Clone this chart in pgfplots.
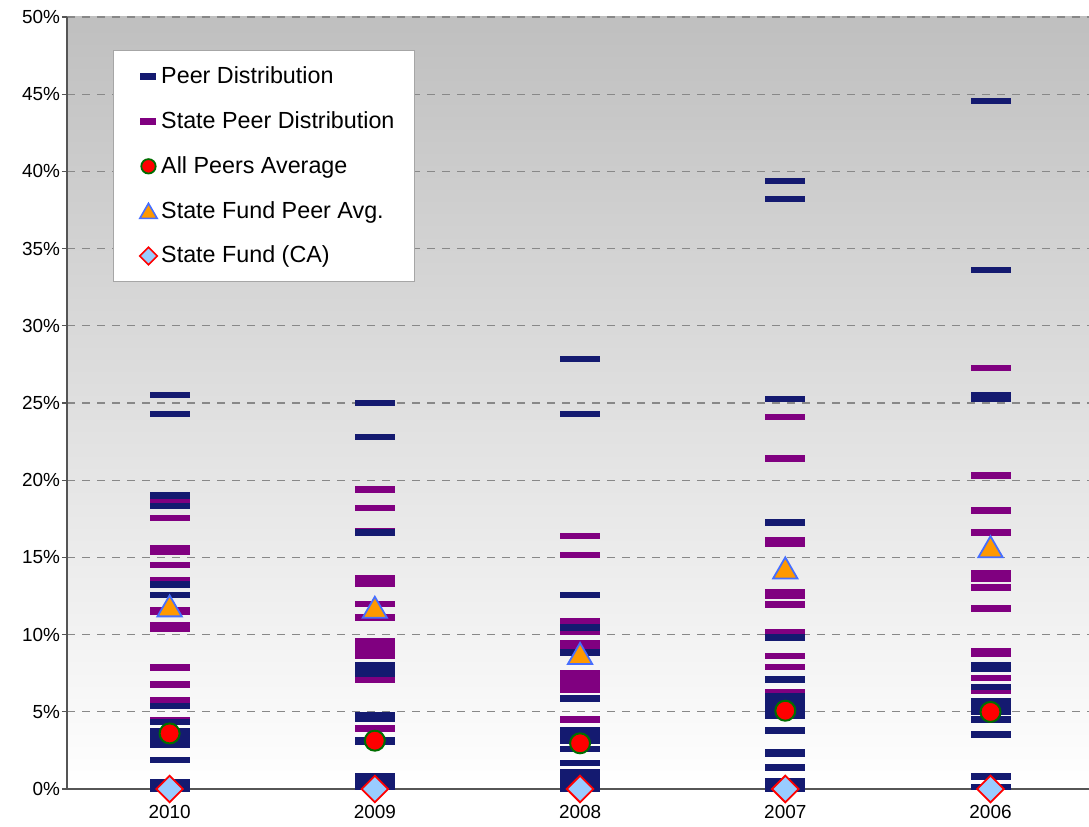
\documentclass[border=0pt]{standalone}
\usepackage{fontspec}
\setmainfont{Liberation Sans}
\usepackage{pgfplots}
\usepackage{pgfplotstable}
\pgfplotsset{compat=1.18}

\definecolor{peernavy}{RGB}{20,26,112}
\definecolor{statepurple}{RGB}{128,0,128}
\definecolor{avgred}{RGB}{255,0,0}
\definecolor{avggreen}{RGB}{0,110,0}
\definecolor{triorange}{RGB}{255,153,0}
\definecolor{triblue}{RGB}{70,110,255}
\definecolor{diafill}{RGB}{153,204,255}
\definecolor{gridgray}{RGB}{136,136,136}
\definecolor{axisgray}{RGB}{85,85,85}

% short horizontal bar used for the distribution marks
\pgfdeclareplotmark{hbar}{%
  \pgfpathrectangle{\pgfqpoint{-10bp}{-1.6bp}}{\pgfqpoint{20bp}{3.2bp}}%
  \pgfusepathqfill}

% x: 0 = 2010, 1 = 2009, 2 = 2008, 3 = 2007, 4 = 2006 ; y in percent
\pgfplotstableread{
x y
0 25.5
0 24.3
0 19.0
0 18.33
0 13.25
0 12.56
0 5.37
0 4.34
0 3.76
0 3.5
0 3.2
0 2.86
0 1.88
0 0.43
0 0.2
0 0.02
1 25.0
1 22.8
1 16.6
1 8.0
1 7.7
1 7.45
1 4.8
1 4.55
1 3.19
1 3.04
1 0.82
1 0.5
1 0.13
2 27.85
2 24.3
2 12.56
2 10.45
2 8.83
2 5.87
2 3.83
2 3.45
2 3.1
2 2.6
2 1.7
2 1.07
2 0.7
2 0.35
2 0.02
3 39.36
3 38.2
3 25.24
3 17.27
3 9.8
3 7.1
3 5.99
3 5.6
3 5.2
3 4.76
3 3.8
3 2.4
3 2.25
3 1.4
3 0.49
3 0.25
3 0.02
4 44.56
4 33.6
4 25.52
4 25.26
4 8.05
4 7.79
4 6.6
4 5.68
4 5.35
4 4.99
4 4.51
4 3.54
4 0.8
4 0.13
}\peertable

\pgfplotstableread{
x y
0 18.6
0 17.57
0 15.62
0 15.37
0 14.49
0 13.5
0 11.6
0 11.45
0 10.63
0 10.37
0 7.86
0 6.78
0 5.76
0 4.48
1 19.4
1 18.2
1 16.7
1 13.67
1 13.3
1 11.98
1 11.1
1 9.55
1 9.3
1 9.1
1 8.65
1 7.1
1 3.93
1 0.41
2 16.4
2 15.15
2 10.84
2 10.15
2 9.45
2 9.2
2 7.5
2 7.15
2 6.8
2 6.4
2 4.5
2 3.5
2 0.8
3 24.1
3 21.4
3 16.1
3 15.9
3 12.75
3 12.5
3 11.95
3 10.15
3 8.6
3 7.9
3 6.26
4 27.25
4 20.3
4 18.05
4 16.6
4 14.0
4 13.62
4 13.06
4 11.7
4 8.95
4 8.75
4 7.17
4 6.37
}\statetable

\pgfplotstableread{
x y
0 3.6
1 3.13
2 2.96
3 5.07
4 4.99
}\avgtable

\pgfplotstableread{
x y
0 11.84
1 11.75
2 8.76
3 14.3
4 15.67
}\stavgtable

\pgfplotstableread{
x y
0 0
1 0
2 0
3 0
4 0
}\fundtable

\begin{document}
\begin{tikzpicture}
\begin{axis}[
  name=ax,
  scale only axis,
  width=511bp, height=386bp,
  xmin=-0.5, xmax=4.48,
  ymin=0, ymax=50,
  xtick={0,1,2,3,4},
  xticklabels={2010,2009,2008,2007,2006},
  ytick={0,5,...,50},
  yticklabel={\pgfmathprintnumber{\tick}\%},
  /pgf/number format/assume math mode=true,
  tick label style={font=\fontsize{9.5}{10}\selectfont, text=black},
  yticklabel style={xshift=2.5bp},
  xticklabel style={yshift=-2bp},
  axis x line*=bottom,
  axis y line*=left,
  axis line style={axisgray, line width=1.1bp, -},
  x tick style={draw=none},
  y tick style={axisgray, line width=0.6bp},
  tick align=outside,
  major tick length=2.5bp,
  ymajorgrids,
  y grid style={gridgray, line width=0.6bp, dash pattern=on 4bp off 3.5bp},
  axis background/.style={top color=black!25, bottom color=white},
  clip=false,
  legend cell align=left,
  legend style={
    at={(0.045,0.957)}, anchor=north west,
    draw=gray!70, fill=white, line width=0.5bp,
    font=\fontsize{11.7}{13}\selectfont,
    inner xsep=8bp, inner ysep=6bp,
    row sep=8.5bp,
  },
]
% legend keys for the two distributions
\addlegendimage{legend image code/.code={%
    \path[draw=none] (0bp,0bp) -- (13bp,0bp);
    \fill[peernavy] (5.75bp,-1.6bp) rectangle (13.25bp,1.6bp);}}
\addlegendentry{Peer Distribution}
\addlegendimage{legend image code/.code={%
    \path[draw=none] (0bp,0bp) -- (13bp,0bp);
    \fill[statepurple] (5.75bp,-1.6bp) rectangle (13.25bp,1.6bp);}}
\addlegendentry{State Peer Distribution}

% state peers underneath, all peers on top
\addplot[only marks, mark=hbar, color=statepurple, forget plot]
  table[x=x, y=y] {\statetable};
\addplot[only marks, mark=hbar, color=peernavy, forget plot]
  table[x=x, y=y] {\peertable};

\addplot[only marks, mark=*, mark size=5bp,
  mark options={fill=avgred, draw=avggreen, line width=1bp},
  legend image code/.code={%
    \path[draw=none] (0bp,0bp) -- (13bp,0bp);
    \draw plot[only marks, mark=*, mark size=3.6bp,
      mark options={fill=avgred, draw=avggreen, line width=0.9bp}]
      coordinates {(9.5bp,0bp)};}]
  table[x=x, y=y] {\avgtable};
\addlegendentry{All Peers Average}

\addplot[only marks, mark=triangle*, mark size=7bp,
  mark options={fill=triorange, draw=triblue, line width=0.9bp, yshift=-1.6bp},
  legend image code/.code={%
    \path[draw=none] (0bp,0bp) -- (13bp,0bp);
    \draw plot[only marks, mark=triangle*, mark size=5bp,
      mark options={fill=triorange, draw=triblue, line width=0.8bp, yshift=-1.1bp}]
      coordinates {(9.5bp,0bp)};}]
  table[x=x, y=y] {\stavgtable};
\addlegendentry{State Fund Peer Avg.}

\addplot[only marks, mark=square*, mark size=4.7bp,
  mark options={fill=diafill, draw=avgred, line width=0.9bp, rotate=45},
  legend image code/.code={%
    \path[draw=none] (0bp,0bp) -- (13bp,0bp);
    \draw plot[only marks, mark=square*, mark size=3.1bp,
      mark options={fill=diafill, draw=avgred, line width=0.8bp, rotate=45}]
      coordinates {(9.5bp,0bp)};}]
  table[x=x, y=y] {\fundtable};
\addlegendentry{State Fund (CA)}
\end{axis}
\pgfresetboundingbox
\useasboundingbox ([xshift=-33.5bp, yshift=-19bp]ax.south west)
  rectangle ([yshift=8.5bp]ax.north east);
\end{tikzpicture}
\end{document}
